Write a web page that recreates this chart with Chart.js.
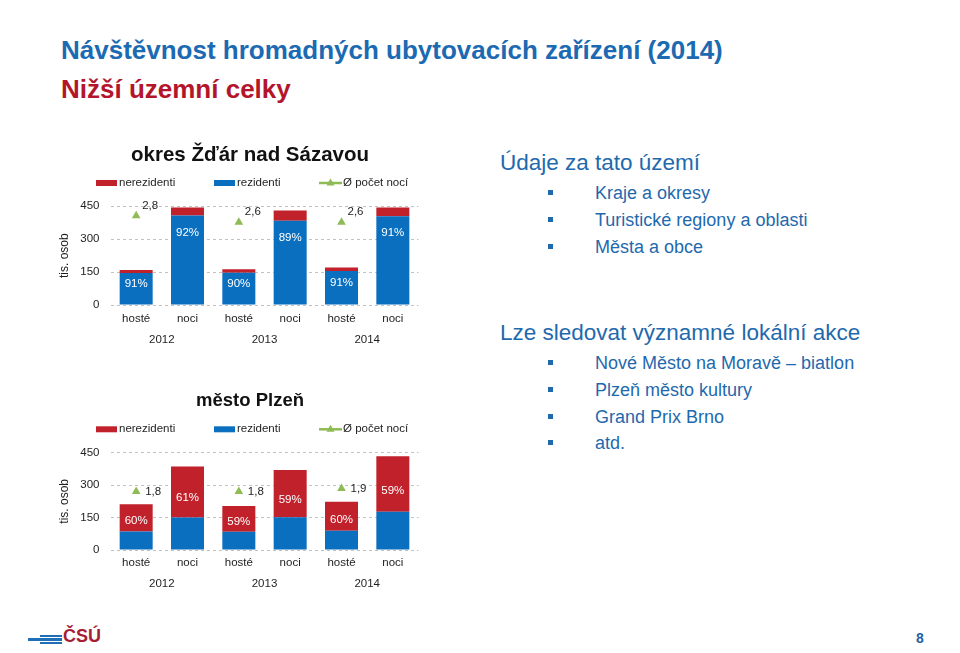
<!DOCTYPE html>
<html lang="cs">
<head>
<meta charset="utf-8">
<title>Návštěvnost hromadných ubytovacích zařízení (2014)</title>
<script src="https://cdn.jsdelivr.net/npm/chart.js@4.4.1/dist/chart.umd.min.js"></script>
<style>
  body { margin: 0; background: #fff; font-family: "Liberation Sans", Arial, sans-serif; }
  #slide { position: relative; width: 960px; height: 653px; overflow: hidden; background: #fff; }
  .t { position: absolute; white-space: nowrap; }
  .h1 { left: 61px; top: 35px; font-size: 26px; font-weight: bold; color: #1b6ab2; line-height: 30px; }
  .h2 { left: 61px; top: 74px; font-size: 26px; font-weight: bold; color: #b3162b; line-height: 30px; }
  .head { left: 500px; font-size: 22.5px; color: #1f69ad; line-height: 26px; }
  .item { left: 595px; font-size: 18px; color: #1f69ad; line-height: 22px; }
  .bullet { position: absolute; left: 548px; width: 5px; height: 5px; background: #1f69ad; }
  .logo-line { position: absolute; background: #1f6fb8; }
  canvas { position: absolute; left: 0; }
</style>
</head>
<body>
<div id="slide">
  <div class="t h1">Návštěvnost hromadných ubytovacích zařízení (2014)</div>
  <div class="t h2">Nižší územní celky</div>

  <canvas id="zdar" width="470" height="215" style="top:135px"></canvas>
  <canvas id="plzen" width="470" height="215" style="top:380px"></canvas>

  <div class="t head" style="top:150px">Údaje za tato území</div>
  <div class="bullet" style="top:190px"></div><div class="t item" style="top:182px">Kraje a okresy</div>
  <div class="bullet" style="top:217px"></div><div class="t item" style="top:209px">Turistické regiony a oblasti</div>
  <div class="bullet" style="top:244px"></div><div class="t item" style="top:236px">Města a obce</div>

  <div class="t head" style="top:320px">Lze sledovat významné lokální akce</div>
  <div class="bullet" style="top:360px"></div><div class="t item" style="top:352px">Nové Město na Moravě – biatlon</div>
  <div class="bullet" style="top:387px"></div><div class="t item" style="top:379px">Plzeň město kultury</div>
  <div class="bullet" style="top:414px"></div><div class="t item" style="top:406px">Grand Prix Brno</div>
  <div class="bullet" style="top:440px"></div><div class="t item" style="top:432px">atd.</div>

  <div class="logo-line" style="left:40px;top:635px;width:22px;height:2px"></div>
  <div class="logo-line" style="left:28px;top:638px;width:34px;height:2.5px"></div>
  <div class="logo-line" style="left:40px;top:642px;width:22px;height:2px"></div>
  <div class="t" style="left:63px;top:626px;font-size:18px;font-weight:bold;color:#a51e36;line-height:20px">ČSÚ</div>
  <div class="t" style="left:916px;top:630px;font-size:14px;font-weight:bold;color:#1f5fa5;line-height:16px">8</div>
</div>

<script>
// kategorie a roky
const categories = ['hosté', 'noci', 'hosté', 'noci', 'hosté', 'noci'];
const years = ['2012', '2013', '2014'];
const yTicks = [0, 150, 300, 450];

// okres Žďár nad Sázavou (tis. osob)
const zdarRezidenti   = [146, 408, 147, 384, 155, 405];
const zdarNerezidenti = [14, 36, 16, 47, 16, 40];
const zdarNoci        = [2.8, null, 2.6, null, 2.6, null];
const zdarPodil       = ['91%', '92%', '90%', '89%', '91%', '91%'];

// město Plzeň (tis. osob)
const plzenRezidenti   = [85, 150, 84, 151, 89, 177];
const plzenNerezidenti = [127, 236, 120, 219, 134, 257];
const plzenNoci        = [1.8, null, 1.8, null, 1.9, null];
const plzenPodil       = ['60%', '61%', '59%', '59%', '60%', '59%'];

const blue = '#0b6fc0';
const red = '#c0212b';
const green = '#8fbb55';
const ink = '#1e1e1e';
const fam = '"Liberation Sans", Arial, sans-serif';

// titulek, legenda a popisky
function slide(cfg) {
  return {
    id: 'slide',
    afterDatasetsDraw(chart) {
      const ctx = chart.ctx;
      ctx.save();
      ctx.font = '11.5px ' + fam;
      ctx.textBaseline = 'middle';
      chart.data.datasets.forEach((ds, di) => {
        if (!ds.pctLabels) return;
        ctx.fillStyle = '#fff';
        ctx.textAlign = 'center';
        chart.getDatasetMeta(di).data.forEach((bar, i) => {
          const h = bar.base - bar.y;
          ctx.fillText(ds.pctLabels[i], bar.x, bar.y + Math.min(h * cfg.pctFrac, cfg.pctMax));
        });
      });
      const line = chart.data.datasets[2];
      ctx.fillStyle = ink;
      ctx.textAlign = 'left';
      chart.getDatasetMeta(2).data.forEach((pt, i) => {
        if (line.data[i] == null) return;
        ctx.fillText(line.data[i].toFixed(1).replace('.', ','), pt.x + cfg.dx, pt.y + cfg.dy);
      });
      ctx.restore();
    },
    afterDraw(chart) {
      const ctx = chart.ctx;
      ctx.save();
      ctx.fillStyle = '#111';
      ctx.font = 'bold ' + cfg.titleSize + 'px ' + fam;
      ctx.textAlign = 'center';
      ctx.textBaseline = 'middle';
      ctx.fillText(cfg.title, 250, cfg.titleY);

      ctx.font = '11.5px ' + fam;
      ctx.textAlign = 'left';
      [1, 0, 2].forEach((di, k) => {
        const ds = chart.data.datasets[di];
        const x = cfg.legendX[k], y = cfg.legendY;
        if (ds.type === 'line') {
          ctx.strokeStyle = ds.borderColor;
          ctx.lineWidth = 2.5;
          ctx.beginPath();
          ctx.moveTo(x, y);
          ctx.lineTo(x + 23, y);
          ctx.stroke();
          ctx.fillStyle = ds.backgroundColor;
          ctx.beginPath();
          ctx.moveTo(x + 11.5, y - 4.5);
          ctx.lineTo(x + 15.5, y + 2.5);
          ctx.lineTo(x + 7.5, y + 2.5);
          ctx.closePath();
          ctx.fill();
          ctx.fillStyle = ink;
          ctx.fillText(ds.label, x + 24, y);
        } else {
          ctx.fillStyle = ds.backgroundColor;
          ctx.fillRect(x, y - 3, 21, 6);
          ctx.fillStyle = ink;
          ctx.fillText(ds.label, x + 23, y);
        }
      });
      ctx.restore();
    }
  };
}

function makeChart(id, rez, nerez, noci, cfg) {
  const tickFont = { family: fam, size: 11.5 };
  return new Chart(document.getElementById(id), {
    type: 'bar',
    data: {
      labels: categories,
      datasets: [
        { type: 'bar', label: 'rezidenti', data: rez, backgroundColor: blue, pctLabels: cfg.onRez ? cfg.pct : null },
        { type: 'bar', label: 'nerezidenti', data: nerez, backgroundColor: red, pctLabels: cfg.onRez ? null : cfg.pct },
        { type: 'line', label: 'Ø počet nocí', data: noci, yAxisID: 'y2', showLine: false,
          pointStyle: 'triangle', pointRadius: 5, pointHoverRadius: 5, borderWidth: 0,
          backgroundColor: green, borderColor: green }
      ]
    },
    options: {
      responsive: false,
      animation: false,
      events: [],
      layout: { padding: { top: cfg.top, right: 51.5, bottom: 0, left: 0 } },
      datasets: { bar: { categoryPercentage: 1, barPercentage: 0.643 } },
      plugins: { legend: { display: false }, tooltip: { enabled: false } },
      scales: {
        x: {
          stacked: true, offset: true,
          grid: { display: false, drawTicks: false }, border: { display: false },
          ticks: { color: ink, font: tickFont, padding: cfg.xPad },
          afterFit: s => { s.height = 21; }
        },
        x2: {
          type: 'category', labels: years, position: 'bottom', offset: true,
          grid: { display: false, drawTicks: false }, border: { display: false },
          ticks: { color: ink, font: tickFont, padding: cfg.x2Pad },
          afterFit: s => { s.height = 24; }
        },
        y: {
          stacked: true, min: yTicks[0], max: yTicks[yTicks.length - 1],
          ticks: { stepSize: yTicks[1], color: ink, font: tickFont, padding: 11 },
          grid: { color: '#c2c2c2', drawTicks: false },
          border: { display: false, dash: [3, 3] },
          title: { display: true, text: 'tis. osob', color: ink, font: { family: fam, size: 12 }, padding: { top: 57, bottom: 0 } },
          afterFit: s => { s.width = 110.5; }
        },
        y2: { display: false, min: 0, max: cfg.y2max }
      }
    },
    plugins: [slide(cfg)]
  });
}

makeChart('zdar', zdarRezidenti, zdarNerezidenti, zdarNoci, {
  title: 'okres Žďár nad Sázavou', titleSize: 20.5, titleY: 20, legendY: 48,
  legendX: [96, 214, 319], top: 71.3, xPad: 7, x2Pad: 7, y2max: 3.1,
  pct: zdarPodil, onRez: true, pctFrac: 0.36, pctMax: 17, dx: 6, dy: -10
});

makeChart('plzen', plzenRezidenti, plzenNerezidenti, plzenNoci, {
  title: 'město Plzeň', titleSize: 18.5, titleY: 20.7, legendY: 49.3,
  legendX: [96, 214, 319], top: 72.7, xPad: 6, x2Pad: 5.5, y2max: 3,
  pct: plzenPodil, onRez: false, pctFrac: 0.62, pctMax: 99, dx: 9, dy: 0
});
</script>
</body>
</html>
